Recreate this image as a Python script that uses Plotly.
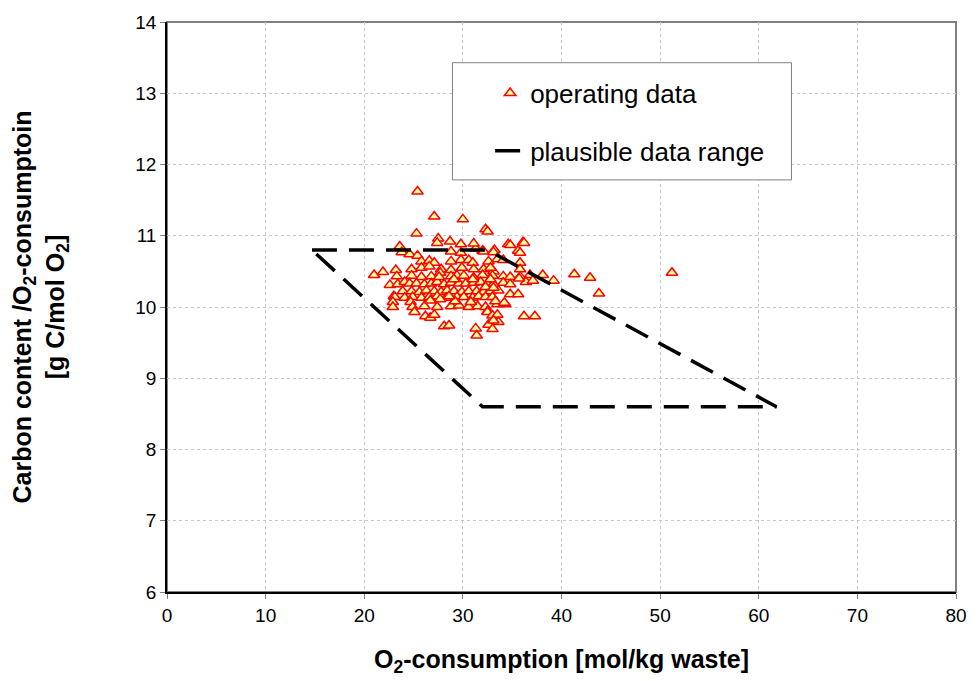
import plotly.graph_objects as go

# Operating data (O2-consumption [mol/kg waste], carbon content / O2-consumption [g C/mol O2])
o2_consumption = [
    25.4, 27.1, 30.0, 25.3, 32.3, 32.5, 27.5, 28.7, 29.8, 23.6, 31.3, 32.0, 33.2,
    34.6, 36.1, 35.6, 32.1,
    23.8, 24.6, 25.4, 28.8, 29.8, 33.1, 35.8,
    27.4, 31.1, 34.8, 36.2,
    25.8, 26.6, 27.1, 28.8, 29.8, 30.6, 31.0, 32.6, 33.5, 34.1, 35.8,
    23.2, 24.8, 25.8, 26.6, 27.8, 28.8, 29.9, 31.1, 32.1, 33.1, 35.8, 32.8,
    21.0, 21.9, 23.3, 24.8, 25.8, 26.8, 27.7, 28.8, 29.4, 30.1, 31.1, 32.0, 33.0,
    34.1, 34.8, 35.8, 36.8, 38.1, 39.2,
    41.3, 42.9, 43.8, 51.2, 36.4, 37.1, 35.7,
    22.6, 23.4, 24.1, 24.6, 25.3, 26.1, 26.8, 27.4, 28.1, 28.8, 29.6, 30.3, 31.1,
    31.8, 32.5, 33.1, 34.1, 34.8, 29.1, 31.0, 32.8, 27.6,
    23.9, 24.8, 25.6, 26.3, 27.1, 27.8, 28.4, 29.1, 29.9, 30.6, 31.4, 32.1, 32.8,
    33.6, 34.8, 35.6, 23.0,
    23.1, 24.1, 24.9, 25.8, 26.6, 27.4, 28.3, 29.4, 30.1, 31.0, 31.6, 32.3, 33.0,
    32.3, 33.1,
    22.9, 24.7, 22.9, 24.9, 26.1, 27.4, 28.8, 29.6, 30.6, 31.5, 32.3, 33.5, 34.3,
    26.7, 27.7, 29.2, 30.8, 33.3, 28.6, 34.2, 32.5,
    25.1, 26.2, 26.7, 27.1, 32.5, 33.0, 33.5, 36.2, 37.3,
    28.1, 28.6, 31.3, 32.6, 33.0, 31.4, 33.6, 33.1,
]
carbon_ratio = [
    11.62, 11.27, 11.23, 11.03, 11.09, 11.06, 10.96, 10.92, 10.88, 10.85, 10.82, 10.79, 10.80,
    10.88, 10.91, 10.79, 10.78,
    10.77, 10.74, 10.72, 10.78, 10.76, 10.77, 10.76,
    10.90, 10.89, 10.87, 10.90,
    10.64, 10.65, 10.62, 10.64, 10.66, 10.66, 10.62, 10.64, 10.67, 10.66, 10.62,
    10.52, 10.53, 10.55, 10.57, 10.53, 10.52, 10.55, 10.53, 10.53, 10.50, 10.53, 10.55,
    10.45, 10.49, 10.43, 10.44, 10.42, 10.43, 10.48, 10.43, 10.44, 10.44, 10.41, 10.45, 10.44,
    10.43, 10.42, 10.43, 10.45, 10.45, 10.37,
    10.46, 10.41, 10.19, 10.48, 10.35, 10.37, 10.40,
    10.31, 10.32, 10.35, 10.33, 10.33, 10.32, 10.33, 10.35, 10.32, 10.34, 10.33, 10.33, 10.34,
    10.35, 10.33, 10.32, 10.34, 10.32, 10.39, 10.39, 10.39, 10.42,
    10.22, 10.22, 10.21, 10.23, 10.22, 10.21, 10.23, 10.22, 10.21, 10.22, 10.22, 10.21, 10.22,
    10.23, 10.18, 10.18, 10.15,
    10.14, 10.13, 10.14, 10.13, 10.14, 10.15, 10.13, 10.14, 10.14, 10.13, 10.15, 10.14, 10.14,
    10.28, 10.27,
    10.07, 10.07, 10.00, 10.00, 10.01, 10.00, 10.01, 10.02, 10.00, 10.01, 10.00, 10.04, 10.04,
    10.09, 10.11, 10.08, 10.07, 10.08, 10.15, 10.06, 9.94,
    9.93, 9.87, 9.85, 9.89, 9.93, 9.88, 9.89, 9.87, 9.87,
    9.73, 9.74, 9.70, 9.75, 9.69, 9.60, 9.79, 9.81,
]

# Plausible data range (polygon corners)
range_x = [14.7, 32.5, 61.8, 32.0, 14.7]
range_y = [10.8, 10.8, 8.6, 8.6, 10.8]

x_ticks = [0, 10, 20, 30, 40, 50, 60, 70, 80]
y_ticks = [6, 7, 8, 9, 10, 11, 12, 13, 14]

FONT = "Arial, Liberation Sans, sans-serif"

ML, MR, MT, MB = 167, 16, 21, 86
PW = 979 - ML - MR
PH = 681 - MT - MB

fig = go.Figure()

fig.add_trace(go.Scatter(
    x=o2_consumption, y=carbon_ratio, mode="markers", name="operating data",
    legendgroup="a",
    marker=dict(symbol="triangle-up", size=10, color="#FFFF99",
                line=dict(color="#FF0000", width=1.5)),
))
fig.add_trace(go.Scatter(
    x=range_x, y=range_y, mode="lines", name="plausible data range",
    legendgroup="b",
    line=dict(color="black", width=3.5, dash="25px,12px"),
))

# Legend frame
fig.add_shape(type="rect", xref="paper", yref="paper",
              x0=(455 - ML) / PW, x1=(797 - ML) / PW,
              y0=(681 - MB - 180) / PH, y1=(681 - MB - 62) / PH,
              line=dict(color="#808080", width=1), fillcolor="white", layer="above")
# Plot border (top/right gray)
fig.add_shape(type="rect", xref="paper", yref="paper", x0=0, x1=1, y0=0, y1=1,
              line=dict(color="#808080", width=2), layer="below")

fig.update_layout(
    width=979, height=681,
    margin=dict(l=ML, r=MR, t=MT, b=MB),
    paper_bgcolor="white", plot_bgcolor="white",
    font=dict(family=FONT, color="black"),
    showlegend=True,
    legend=dict(
        x=(493 - ML) / PW, y=(681 - MB - 69) / PH, xanchor="left", yanchor="top",
        bgcolor="rgba(0,0,0,0)", borderwidth=0,
        font=dict(family=FONT, size=26, color="black"),
        tracegroupgap=21,
    ),
    xaxis=dict(
        range=[0, 80], tickvals=x_ticks, ticktext=[str(v) for v in x_ticks],
        showgrid=True, gridcolor="#c8c8c8", griddash="dot", gridwidth=1,
        zeroline=False, showline=True, linecolor="black", linewidth=1.5,
        ticks="outside", ticklen=5, tickcolor="#808080",
        tickfont=dict(family=FONT, size=19, color="black"),
        title=dict(text="<b>O<sub>2</sub>-consumption [mol/kg waste]</b>",
                   font=dict(family=FONT, size=25, color="black"), standoff=26),
    ),
    yaxis=dict(
        range=[6, 14], tickvals=y_ticks, ticktext=[str(v) for v in y_ticks],
        showgrid=True, gridcolor="#c8c8c8", griddash="dot", gridwidth=1,
        zeroline=False, showline=True, linecolor="black", linewidth=1.5,
        ticks="outside", ticklen=5, tickcolor="#808080",
        tickfont=dict(family=FONT, size=19, color="black"),
        title=dict(text="<b>Carbon content /O<sub>2</sub>-consumptoin<br>[g C/mol O<sub>2</sub>]</b>",
                   font=dict(family=FONT, size=25, color="black"), standoff=64),
    ),
)

fig.write_html("out.html")
